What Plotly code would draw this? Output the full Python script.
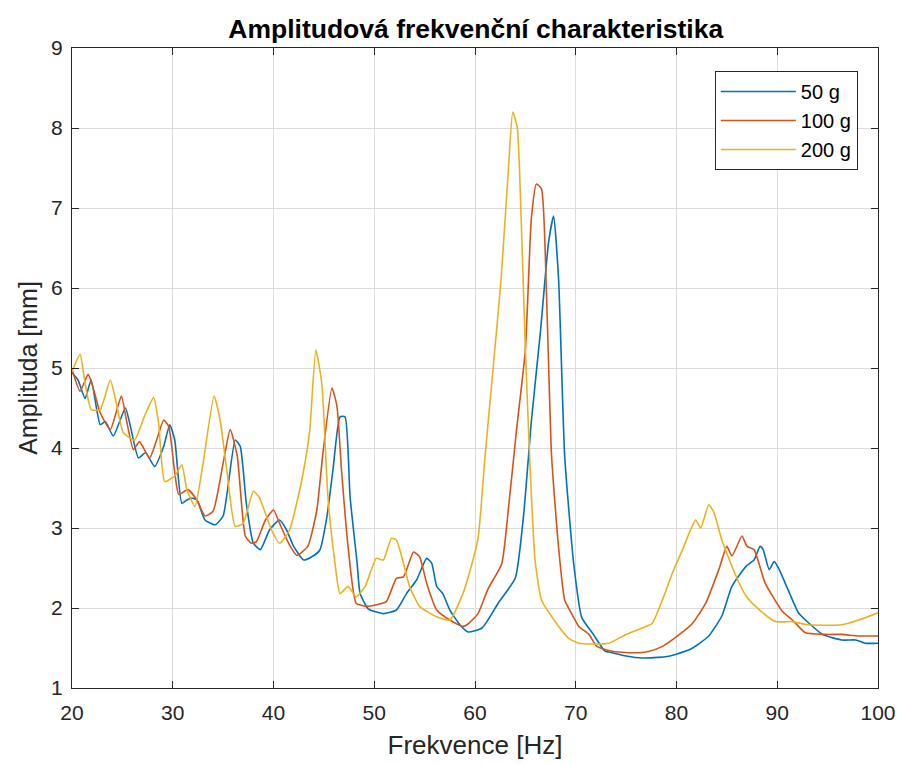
import plotly.graph_objects as go

title_text = "Amplitudová frekvenční charakteristika"
x_label = "Frekvence [Hz]"
y_label = "Amplituda [mm]"
series_names = ["50 g", "100 g", "200 g"]
series_colors = ["#0072BD", "#D95319", "#EDB120"]

freq_50 = [20.0, 20.6, 21.3, 21.9, 22.8, 23.3, 24.1, 25.3, 25.8, 26.6, 27.3, 28.2, 29.1, 29.7, 30.2,
           30.9, 31.4, 31.9, 32.4, 33.2, 34.2, 35.0, 36.2, 36.7, 37.3, 38.0, 38.7, 39.6, 40.6, 41.3,
           42.0, 43.0, 43.8, 44.6, 45.3, 45.9, 46.6, 47.1, 47.6, 48.3, 48.6, 49.4, 50.9, 52.2, 53.2,
           54.2, 55.2, 55.7, 56.2, 56.8, 57.5, 58.5, 59.3, 60.7, 62.3, 64.0, 64.8, 65.6, 66.5, 67.3,
           67.8, 68.3, 68.9, 69.8, 70.6, 71.7, 72.9, 73.3, 75.0, 76.6, 78.9, 79.9, 81.6, 83.2, 84.5,
           85.5, 86.9, 87.7, 88.3, 88.6, 89.2, 89.7, 90.2, 91.2, 92.1, 92.8, 94.5, 96.4, 97.8, 98.7, 100.0]
amp_50 = [4.94, 4.85, 4.62, 4.85, 4.29, 4.33, 4.15, 4.50, 4.27, 3.875, 3.94, 3.77, 4.02, 4.29, 4.10,
          3.31, 3.35, 3.375, 3.35, 3.10, 3.04, 3.15, 4.10, 4.02, 3.31, 2.81, 2.73, 2.975, 3.10, 2.975,
          2.77, 2.60, 2.64, 2.725, 3.14, 3.725, 4.39, 4.39, 3.39, 2.56, 2.18, 1.99, 1.93, 1.975, 2.18,
          2.35, 2.62, 2.56, 2.27, 2.18, 1.975, 1.79, 1.70, 1.75, 2.06, 2.375, 3.13, 4.34, 5.46, 6.57,
          6.90, 6.10, 3.90, 2.55, 1.88, 1.68, 1.46, 1.45, 1.40, 1.375, 1.39, 1.42, 1.50, 1.65, 1.90,
          2.27, 2.52, 2.60, 2.77, 2.73, 2.48, 2.58, 2.48, 2.19, 1.94, 1.85, 1.67, 1.60, 1.60, 1.56, 1.56]

freq_100 = [20.0, 20.8, 21.6, 22.1, 22.8, 23.8, 24.9, 25.4, 26.1, 26.7, 27.7, 28.4, 29.1, 29.6, 30.2,
            30.6, 31.5, 32.4, 33.2, 34.0, 35.0, 35.7, 36.4, 37.2, 37.8, 38.3, 39.2, 40.0, 40.6, 41.5,
            42.3, 43.4, 44.3, 44.9, 45.8, 46.3, 46.75, 47.4, 48.2, 49.2, 50.2, 51.2, 52.2, 52.9, 53.9,
            54.5, 55.2, 56.2, 57.5, 58.8, 59.3, 60.3, 61.3, 62.65, 63.3, 64.1, 65.0, 65.6, 66.1, 66.6,
            67.1, 67.6, 68.3, 68.9, 69.5, 70.3, 71.3, 72.1, 73.6, 75.6, 77.3, 78.6, 80.3, 81.6, 82.9,
            84.2, 85.0, 85.5, 86.5, 87.0, 87.7, 88.8, 90.5, 91.5, 92.8, 94.8, 96.4, 98.1, 100.0]
amp_100 = [4.98, 4.71, 4.92, 4.75, 4.44, 4.23, 4.65, 4.35, 3.98, 4.08, 3.875, 4.10, 4.35, 4.27, 3.69,
           3.42, 3.48, 3.35, 3.15, 3.21, 3.81, 4.23, 3.90, 2.90, 2.81, 2.83, 3.10, 3.225, 3.06, 2.81,
           2.66, 2.77, 3.225, 3.93, 4.75, 4.52, 3.725, 2.77, 2.06, 2.02, 2.04, 2.08, 2.37, 2.39, 2.70,
           2.64, 2.31, 1.975, 1.85, 1.77, 1.80, 1.93, 2.24, 2.55, 3.22, 4.20, 5.23, 6.88, 7.30, 7.24,
           5.90, 3.90, 2.75, 2.10, 1.95, 1.77, 1.67, 1.52, 1.46, 1.44, 1.46, 1.52, 1.67, 1.81, 2.06,
           2.48, 2.77, 2.65, 2.90, 2.77, 2.73, 2.31, 1.96, 1.85, 1.69, 1.67, 1.67, 1.65, 1.65]

freq_200 = [20.0, 20.8, 21.3, 21.9, 22.8, 23.8, 24.4, 25.1, 26.2, 27.2, 28.1, 28.6, 29.2, 30.2, 30.9,
            31.4, 32.2, 33.0, 34.1, 34.7, 35.4, 36.2, 37.0, 38.0, 38.6, 39.8, 40.6, 41.6, 42.3, 43.0,
            43.6, 44.2, 44.8, 45.4, 46.1, 46.6, 47.4, 48.2, 49.1, 50.2, 50.9, 51.7, 52.2, 52.9, 53.5,
            54.5, 56.2, 57.5, 58.8, 59.3, 60.3, 61.0, 61.8, 62.6, 63.3, 63.75, 64.2, 64.6, 65.0, 65.5,
            65.96, 66.6, 67.9, 69.3, 70.3, 71.6, 73.3, 75.0, 76.6, 77.6, 78.6, 79.6, 80.6, 81.4, 81.9,
            82.4, 83.2, 83.7, 84.5, 85.9, 86.9, 88.2, 89.8, 91.5, 93.1, 96.4, 98.1, 100.0]
amp_200 = [4.95, 5.17, 4.81, 4.48, 4.48, 4.85, 4.56, 4.19, 4.10, 4.40, 4.63, 4.31, 3.58, 3.65, 3.79,
           3.48, 3.27, 3.80, 4.65, 4.35, 3.69, 3.02, 3.06, 3.46, 3.38, 2.975, 2.81, 2.975, 3.31, 3.725,
           4.225, 5.225, 4.80, 3.39, 2.56, 2.18, 2.27, 2.14, 2.27, 2.62, 2.60, 2.87, 2.85, 2.56, 2.27,
           2.02, 1.89, 1.85, 2.18, 2.375, 2.87, 3.90, 5.00, 6.125, 7.46, 8.20, 8.00, 6.80, 5.23, 3.67,
           2.60, 2.10, 1.84, 1.62, 1.56, 1.55, 1.56, 1.67, 1.75, 1.81, 2.10, 2.44, 2.73, 2.98, 3.10,
           3.00, 3.29, 3.20, 2.85, 2.40, 2.15, 1.98, 1.83, 1.83, 1.79, 1.79, 1.85, 1.94]

x_ticks = [20, 30, 40, 50, 60, 70, 80, 90, 100]
y_ticks = [1, 2, 3, 4, 5, 6, 7, 8, 9]

fig = go.Figure()
for name, color, fx, fy in zip(series_names, series_colors,
                                [freq_50, freq_100, freq_200], [amp_50, amp_100, amp_200]):
    fig.add_trace(go.Scatter(x=fx, y=fy, mode="lines", name=name,
                             line=dict(color=color, width=1.6, shape="spline", smoothing=0.5)))

font_family = "Liberation Sans, Arial, Helvetica, sans-serif"
axis_common = dict(
    showline=True, linecolor="#262626", linewidth=1, mirror="ticks",
    ticks="inside", ticklen=7, tickcolor="#262626", automargin=False,
    showgrid=True, gridcolor="#DCDCDC", gridwidth=1, zeroline=False,
    tickfont=dict(size=21, color="#262626", family=font_family),
)

fig.update_layout(
    width=901, height=765,
    margin=dict(l=72, r=23, t=48, b=77),
    paper_bgcolor="white", plot_bgcolor="white",
    font=dict(family=font_family, color="#262626"),
    title=dict(text="<b>" + title_text + "</b>", x=0.528, xanchor="center",
               y=1 - 29 / 765, yanchor="middle",
               font=dict(size=26.5, color="black", family=font_family)),
    xaxis=dict(range=[20, 100], tickvals=x_ticks, ticklabelstandoff=6,
               title=dict(text=x_label, font=dict(size=26, color="#262626"), standoff=12),
               **axis_common),
    yaxis=dict(range=[1, 9], tickvals=y_ticks, ticklabelstandoff=4,
               title=dict(text=y_label, font=dict(size=25, color="#262626"), standoff=6),
               **axis_common),
    legend=dict(x=0.975, y=0.964, xanchor="right", yanchor="top",
                bgcolor="white", bordercolor="#262626", borderwidth=1,
                font=dict(size=20, color="black", family=font_family),
                itemwidth=75, tracegroupgap=0),
    showlegend=True,
)

fig.write_html("out.html")
